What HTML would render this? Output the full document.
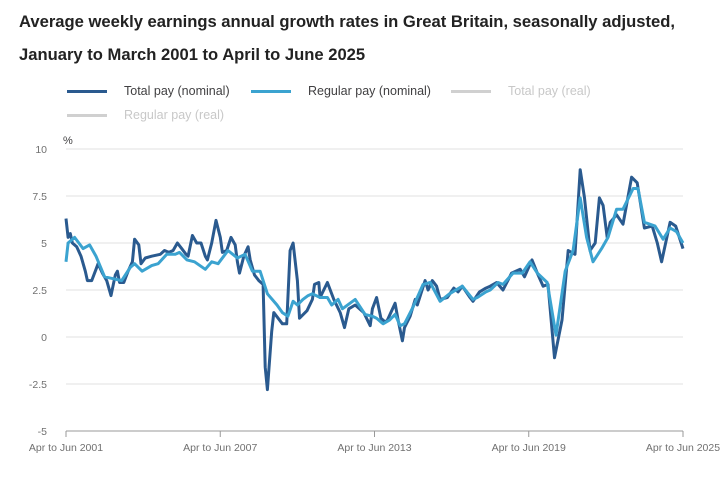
<!DOCTYPE html>
<html><head><meta charset="utf-8"><style>
body{margin:0;background:#fff;font-family:"Liberation Sans",sans-serif;}
#wrap{position:relative;width:723px;height:485px;overflow:hidden;}
h1{position:absolute;left:19px;top:5px;margin:0;font-size:16.6px;line-height:33px;font-weight:bold;color:#222;width:690px;}
.leg{position:absolute;font-size:12.5px;color:#414042;display:flex;align-items:center;}
.leg span.sw{display:inline-block;width:40px;height:3px;margin-right:17px;}
</style></head><body><div id="wrap">
<h1>Average weekly earnings annual growth rates in Great Britain, seasonally adjusted, January to March 2001 to April to June 2025</h1>
<div class="leg" style="left:67px;top:84px"><span class="sw" style="background:#2a5a8f"></span>Total pay (nominal)</div>
<div class="leg" style="left:251px;top:84px"><span class="sw" style="background:#3ba3d0"></span>Regular pay (nominal)</div>
<div class="leg" style="left:451px;top:84px;color:#c8c8c8"><span class="sw" style="background:#d0d0d0"></span>Total pay (real)</div>
<div class="leg" style="left:67px;top:108px;color:#c8c8c8"><span class="sw" style="background:#d0d0d0"></span>Regular pay (real)</div>
<svg id="chart" width="723" height="485" style="position:absolute;left:0;top:0"></svg>
</div>
<script>
const yTicks=[10,7.5,5,2.5,0,-2.5,-5];
const yTickLabels=["10","7.5","5","2.5","0","-2.5","-5"];
const xTickMonths=[0,72,144,216,288];
const xTickLabels=["Apr to Jun 2001","Apr to Jun 2007","Apr to Jun 2013","Apr to Jun 2019","Apr to Jun 2025"];
const totalMonths=[0,1,2,3,5,7,9,10,12,14,15,17,19,21,23,24,25,27,29,31,32,34,35,37,40,44,46,48,50,52,54,56,57,59,61,63,65,66,68,70,72,73,75,77,79,80,81,83,85,86,88,90,92,93,94,96,97,99,101,103,104.6,106,108,109,112.5,115,116,118,118.6,122,125,128,130,132,135,139,142,143,145,147,149,150,153.6,155,157,158,160.6,163,164,167.6,169,171,173,174.6,178,181,183,185,188.6,190,193,196,198,201,204,208,212,214,217.5,220,222.7,225,228,231.5,234.4,237.6,240,242,244.6,247,249,250.7,252.6,254,257,260,264,266.6,270,273.6,276,278,282,284.6,288];
const totalValues=[6.3,5.3,5.5,5.0,4.8,4.3,3.5,3.0,3.0,3.6,3.9,3.4,3.0,2.2,3.3,3.5,2.9,2.9,3.5,4.0,5.2,4.9,3.9,4.2,4.3,4.4,4.6,4.5,4.6,5.0,4.7,4.4,4.3,5.4,5.0,5.0,4.3,4.1,5.0,6.2,5.3,4.5,4.6,5.3,4.9,4.0,3.4,4.3,4.8,4.1,3.3,3.0,2.8,-1.6,-2.8,0.3,1.3,1.0,0.7,0.7,4.6,5.0,3.0,1.0,1.4,2.0,2.8,2.9,2.1,2.9,2.0,1.3,0.5,1.5,1.7,1.3,0.6,1.5,2.1,1.0,0.8,0.9,1.8,0.9,-0.2,0.5,1.1,2.0,1.7,3.0,2.5,3.0,2.7,2.0,2.1,2.6,2.4,2.7,2.1,1.9,2.4,2.6,2.7,2.9,2.5,3.4,3.6,3.2,4.1,3.4,2.7,2.8,-1.1,0.9,4.6,4.4,8.9,7.4,4.6,5.0,7.4,7.0,5.3,6.1,6.5,6.0,8.5,8.2,5.8,5.9,5.0,4.0,6.1,5.9,4.7];
const regularMonths=[0,1,4,8,11,14,18,22,26,30,32,35.5,40,43,47,51,53,56.5,60,65,68,71,75.6,80,83.6,87,90.6,94,98.5,101,103.6,106,108,110.6,113,115,118.6,122,124,127,129,135,139.6,143,145,148,151,153.6,156,158,162,166.7,170,174.6,179,185,190,192,196,198,201.7,204,208.7,213,216.6,220,224.6,228.7,233,236.7,240,243,246,250,253,257,260,264.7,267,270,275,278.7,282,285,288];
const regularValues=[4.0,5.0,5.3,4.7,4.9,4.3,3.2,3.1,3.0,3.7,3.9,3.5,3.8,3.9,4.4,4.4,4.5,4.1,4.0,3.6,4.0,3.9,4.6,4.2,4.4,3.5,3.5,2.3,1.7,1.3,1.1,1.9,1.7,2.0,2.2,2.3,2.1,2.1,1.7,2.0,1.5,2.0,1.2,1.1,1.0,0.7,0.9,1.2,0.6,0.7,1.6,2.8,2.9,1.9,2.3,2.7,2.0,2.1,2.4,2.5,2.9,2.8,3.4,3.4,4.0,3.4,2.9,0.1,3.5,4.6,7.4,5.3,4.0,4.7,5.3,6.8,6.8,7.9,7.9,6.1,5.9,5.2,5.8,5.6,5.0];
const svg=document.getElementById('chart');
const NS='http://www.w3.org/2000/svg';
const X0=66,X1=683,Y0=337,YPU=18.8;
function xScale(m){return X0+m*(X1-X0)/288;}
function yScale(v){return Y0-v*YPU;}
function mk(t,a){const e=document.createElementNS(NS,t);for(const k in a)e.setAttribute(k,a[k]);svg.appendChild(e);return e;}
yTicks.forEach((v,i)=>{
 const g=mk('line',{x1:X0,x2:X1,y1:yScale(v),y2:yScale(v),stroke:v===-5?'#999':'#e0e0e0','stroke-width':1});
 
 
 const t=mk('text',{x:47,y:yScale(v)+4,'text-anchor':'end','font-size':10.5,fill:'#707070','font-family':'Liberation Sans'});
 t.textContent=yTickLabels[i];
 
 
});
const pct=mk('text',{x:63,y:144,'font-size':11,fill:'#414042','font-family':'Liberation Sans'});
pct.textContent='%';


xTickMonths.forEach((m,i)=>{
 const l=mk('line',{x1:xScale(m),x2:xScale(m),y1:431,y2:437,stroke:'#999'});
 
 
 const t=mk('text',{x:xScale(m),y:451,'text-anchor':'middle','font-size':10.5,fill:'#707070','font-family':'Liberation Sans'});
 t.textContent=xTickLabels[i];
 
 
});
function line(ms,vs,color,name){
 const d=ms.map((m,i)=>(i?'L':'M')+xScale(m).toFixed(1)+' '+yScale(vs[i]).toFixed(1)).join(' ');
 const p=mk('path',{d:d,fill:'none',stroke:color,'stroke-width':3,'stroke-linejoin':'round'});
 
 
}
line(totalMonths,totalValues,'#2a5a8f','total-pay-nominal-line');
line(regularMonths,regularValues,'#3ba3d0','regular-pay-nominal-line');
</script></body></html>
